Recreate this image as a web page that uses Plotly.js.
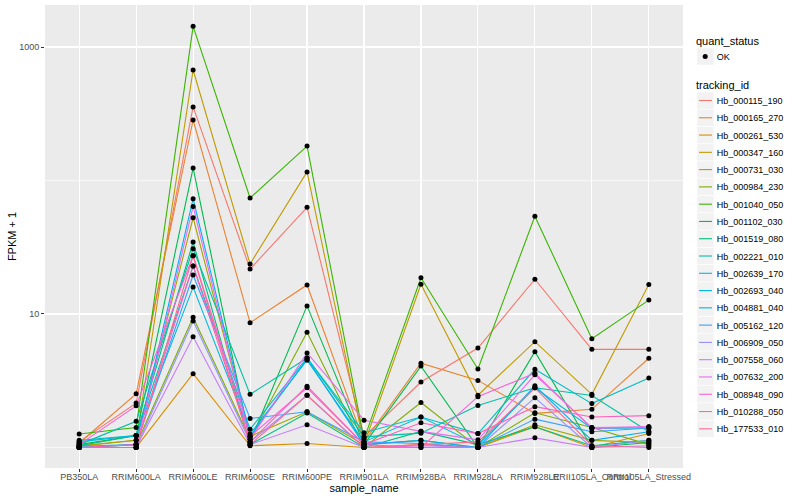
<!DOCTYPE html>
<html>
<head>
<meta charset="utf-8">
<script src="https://cdn.plot.ly/plotly-3.0.1.min.js"></script>
<style>html,body{margin:0;padding:0;background:#fff}#chart{width:800px;height:500px}</style>
</head>
<body>
<div id="chart"></div>
<script>
// categories (x axis)
var samples = ["PB350LA","RRIM600LA","RRIM600LE","RRIM600SE","RRIM600PE","RRIM901LA","RRIM928BA","RRIM928LA","RRIM928LE","RRII105LA_Control","RRII105LA_Stressed"];

// tracking ids (legend order)
var trackingIds = ["Hb_000115_190","Hb_000165_270","Hb_000261_530","Hb_000347_160","Hb_000731_030","Hb_000984_230","Hb_001040_050","Hb_001102_030","Hb_001519_080","Hb_002221_010","Hb_002639_170","Hb_002693_040","Hb_004881_040","Hb_005162_120","Hb_006909_050","Hb_007558_060","Hb_007632_200","Hb_008948_090","Hb_010288_050","Hb_177533_010"];

// FPKM + 1 values per tracking id, in sample order
var Hb_000115_190 = [1.10, 2.15, 356, 21.7, 63, 1.20, 3.09, 5.56, 18.2, 5.43, 5.43];
var Hb_000165_270 = [1.08, 2.52, 284, 8.6, 16.5, 1.10, 4.28, 3.18, 1.80, 1.93, 4.66];
var Hb_000261_530 = [1.00, 1.00, 3.57, 1.03, 1.07, 1.00, 1.05, 1.00, 1.43, 1.00, 1.27];
var Hb_000347_160 = [1.02, 1.13, 673, 23.7, 116, 1.05, 16.7, 2.46, 6.2, 2.50, 16.6];
var Hb_000731_030 = [1.03, 1.13, 52.6, 1.21, 1.85, 1.05, 1.13, 1.00, 1.48, 1.13, 1.09];
var Hb_000984_230 = [1.00, 1.05, 9.45, 1.15, 7.3, 1.00, 2.17, 1.00, 1.82, 1.41, 1.05];
var Hb_001040_050 = [1.26, 1.41, 1430, 74, 181, 1.15, 18.7, 3.87, 54, 6.53, 12.7];
var Hb_001102_030 = [1.05, 1.23, 124, 1.10, 11.5, 1.05, 4.07, 1.00, 5.22, 1.00, 1.09];
var Hb_001519_080 = [1.03, 1.23, 34.6, 1.05, 1.81, 1.00, 1.32, 1.05, 1.43, 1.03, 1.13];
var Hb_002221_010 = [1.05, 1.57, 30.8, 2.50, 4.68, 1.20, 1.28, 2.06, 2.80, 2.45, 1.31];
var Hb_002639_170 = [1.13, 1.23, 22.9, 1.37, 4.68, 1.29, 1.69, 1.27, 3.85, 2.13, 3.31];
var Hb_002693_040 = [1.10, 1.23, 15.9, 1.26, 4.50, 1.10, 1.69, 1.05, 2.80, 1.39, 1.40];
var Hb_004881_040 = [1.02, 1.05, 73, 1.21, 4.60, 1.05, 1.13, 1.00, 2.90, 1.13, 1.31];
var Hb_005162_120 = [1.00, 1.05, 19.6, 1.65, 1.85, 1.10, 1.07, 1.00, 1.63, 1.31, 1.40];
var Hb_006909_050 = [1.00, 1.00, 8.87, 1.10, 2.46, 1.00, 1.00, 1.00, 2.36, 1.00, 1.13];
var Hb_007558_060 = [1.00, 1.00, 6.76, 1.05, 1.48, 1.00, 1.03, 1.00, 1.18, 1.00, 1.03];
var Hb_007632_200 = [1.00, 1.00, 64, 1.15, 5.10, 1.60, 1.32, 1.14, 3.50, 1.41, 1.43];
var Hb_008948_090 = [1.05, 2.05, 27.3, 1.21, 2.80, 1.05, 1.00, 2.40, 3.60, 1.39, 1.43];
var Hb_010288_050 = [1.00, 1.05, 22.9, 1.10, 2.88, 1.05, 1.53, 1.27, 2.02, 1.69, 1.73];
var Hb_177533_010 = [1.00, 1.00, 27.3, 1.05, 2.46, 1.00, 1.05, 1.10, 2.80, 1.03, 1.00];

var seriesValues = [Hb_000115_190,Hb_000165_270,Hb_000261_530,Hb_000347_160,Hb_000731_030,Hb_000984_230,Hb_001040_050,Hb_001102_030,Hb_001519_080,Hb_002221_010,Hb_002639_170,Hb_002693_040,Hb_004881_040,Hb_005162_120,Hb_006909_050,Hb_007558_060,Hb_007632_200,Hb_008948_090,Hb_010288_050,Hb_177533_010];

// quant status legend label
var quantStatus = ["OK"];

var colors = ["#F8766D","#EA8331","#D89000","#C09B00","#A3A500","#7CAE00","#39B600","#00BB4E","#00BF7D","#00C1A3","#00BFC4","#00BAE0","#00B0F6","#35A2FF","#9590FF","#C77CFF","#E76BF3","#FA62DB","#FF62BC","#FF6C91"];

var FONT = "Liberation Sans, Arial, sans-serif";
var TITLE_FONT = {family: FONT, size: 11, color: "#000000"};
var traces = [];
trackingIds.forEach(function(id, i){
  traces.push({
    type: "scatter", mode: "lines", x: samples, y: seriesValues[i], name: id,
    line: {color: colors[i], width: 1.1},
    legendgroup: "tracking_id", legendrank: 1000,
    legendgrouptitle: {text: i === 0 ? "tracking_id" : "", font: TITLE_FONT},
    hoverinfo: "x+y+name"
  });
});
trackingIds.forEach(function(id, i){
  traces.push({
    type: "scatter", mode: "markers", x: samples, y: seriesValues[i], name: quantStatus[0],
    marker: {color: "#000000", size: 5},
    legendgroup: "quant_status", legendrank: 1,
    legendgrouptitle: {text: i === 0 ? "quant_status" : "", font: TITLE_FONT},
    showlegend: i === 0, hoverinfo: "x+y"
  });
});

var layout = {
  width: 800, height: 500,
  margin: {l: 45, r: 116, t: 5, b: 32},
  paper_bgcolor: "#FFFFFF", plot_bgcolor: "#EBEBEB",
  font: {family: FONT, color: "#000000"},
  showlegend: true,
  xaxis: {
    type: "category", categoryorder: "array", categoryarray: samples,
    range: [-0.6, 10.6], tickangle: 0,
    showgrid: true, gridcolor: "#FFFFFF", gridwidth: 1.1,
    zeroline: false, showline: false,
    ticks: "outside", ticklen: 3, tickcolor: "#333333", tickwidth: 1,
    ticklabelstandoff: -3,
    tickfont: {family: FONT, size: 9, color: "#4D4D4D"},
    title: {text: "sample_name", font: TITLE_FONT, standoff: 0}
  },
  yaxis: {
    type: "log", range: [-0.154, 3.315],
    tickmode: "array", tickvals: [10, 1000], ticktext: ["10", "1000"],
    showgrid: true, gridcolor: "#FFFFFF", gridwidth: 1.1,
    minor: {tickmode: "array", tickvals: [1, 100], showgrid: true, gridcolor: "#FFFFFF", gridwidth: 0.6, ticklen: 0},
    zeroline: false, showline: false,
    ticks: "outside", ticklen: 3, tickcolor: "#333333", tickwidth: 1,
    tickfont: {family: FONT, size: 9, color: "#4D4D4D"},
    title: {text: "FPKM + 1", font: TITLE_FONT, standoff: 0}
  },
  legend: {
    x: 1.0, xanchor: "left", y: 1.0, yanchor: "top",
    bgcolor: "rgba(0,0,0,0)", itemwidth: 30, tracegroupgap: 0,
    traceorder: "grouped", maxheight: 500,
    font: {family: FONT, size: 9, color: "#000000"},
    grouptitlefont: TITLE_FONT
  }
};

var NS = "http://www.w3.org/2000/svg";
var TR = /translate\(([-\d.e]+)[ ,]+([-\d.e]+)\)/;

// ggplot-style legend: rows placed like the reference, grey key boxes, short keys (idempotent)
function styleLegend(gd){
  var root = gd.getBoundingClientRect();
  var lg = gd.querySelector("g.infolayer g.legend");
  if (!lg) return;
  var idIndex = {};
  trackingIds.forEach(function(id, k){ idIndex[id] = k; });
  lg.querySelectorAll("g.traces").forEach(function(it){
    var t = it.querySelector("text.legendtext");
    if (!t) return;
    var label = t.textContent, target, isTitle = false;
    if (label === "quant_status") { target = 40.7; isTitle = true; }
    else if (label === "tracking_id") { target = 84.7; isTitle = true; }
    else if (label === quantStatus[0]) target = 57;
    else if (label in idIndex) target = 101 + 17.28 * idIndex[label];
    else return;
    var m = TR.exec(it.getAttribute("transform") || "");
    if (!m) return;
    var tx = parseFloat(m[1]), ty = parseFloat(m[2]);
    var b = t.getBoundingClientRect();
    var cy = (b.top + b.bottom) / 2 - root.top;
    it.setAttribute("transform", "translate(" + tx + "," + (ty + target - cy) + ")");
    var xTarget = isTitle ? 696 : 716.7;
    var xAttr = parseFloat(t.getAttribute("x") || "0") + (xTarget - (b.left - root.left));
    t.setAttribute("x", xAttr);
    if (isTitle) return;
    var L = xAttr - 19.5;
    var rect = it.querySelector("rect.ggkey");
    if (!rect) {
      rect = document.createElementNS(NS, "rect");
      rect.setAttribute("class", "ggkey");
      rect.setAttribute("fill", "#F2F2F2");
      it.insertBefore(rect, it.firstChild);
    }
    rect.setAttribute("x", L); rect.setAttribute("y", -8.25);
    rect.setAttribute("width", 16.5); rect.setAttribute("height", 16.5);
    it.querySelectorAll(".legendlines path").forEach(function(p){
      p.setAttribute("d", "M" + (L + 1.8) + ",0h13");
    });
    it.querySelectorAll(".legendpoints path").forEach(function(p){
      p.setAttribute("transform", "translate(" + (L + 8) + ",0)");
    });
  });
}

Plotly.newPlot("chart", traces, layout, {displayModeBar: false, staticPlot: true}).then(function(gd){
  styleLegend(gd);
  gd.on("plotly_afterplot", function(){ styleLegend(gd); });
  setTimeout(function(){ styleLegend(gd); }, 100);
});
</script>
</body>
</html>
